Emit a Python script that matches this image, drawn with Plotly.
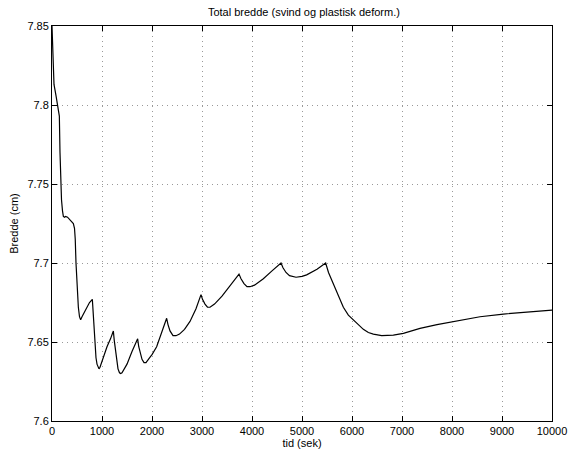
import plotly.graph_objects as go

tid = [0, 15, 40, 80, 120, 147, 160, 173, 190, 210, 227, 250, 273, 310, 340, 380, 427, 450, 465, 480, 500, 527, 550, 573,
       600, 650, 700, 750, 807, 820, 835, 847, 865, 880, 900, 920, 940, 960, 990, 1027, 1100, 1170, 1227,
       1245, 1265, 1290, 1320, 1350, 1373, 1400, 1450, 1500, 1600, 1713,
       1735, 1760, 1800, 1840, 1880, 1950, 2000, 2093, 2200, 2293,
       2320, 2360, 2420, 2480, 2550, 2650, 2760, 2880, 2980,
       3010, 3060, 3110, 3160, 3250, 3400, 3550, 3740,
       3780, 3840, 3900, 3960, 4050, 4227, 4400, 4580,
       4620, 4680, 4750, 4880, 5000, 5093, 5300, 5473,
       5530, 5627, 5727, 5827, 5927, 6027, 6127, 6227, 6327, 6427, 6593, 6827, 7027, 7360, 7700, 8027, 8560, 9027, 9560, 10000]
bredde = [7.85, 7.83, 7.813, 7.806, 7.799, 7.793, 7.77, 7.752, 7.74, 7.733, 7.7295, 7.729, 7.7295, 7.729, 7.728, 7.727, 7.725, 7.722, 7.715, 7.700, 7.685, 7.672, 7.666, 7.664,
          7.666, 7.669, 7.672, 7.675, 7.677, 7.670, 7.660, 7.653, 7.645, 7.640, 7.636, 7.634, 7.633, 7.634, 7.637, 7.641, 7.647, 7.652, 7.657,
          7.651, 7.645, 7.638, 7.633, 7.6305, 7.630, 7.6305, 7.633, 7.636, 7.644, 7.652,
          7.647, 7.643, 7.639, 7.637, 7.637, 7.640, 7.642, 7.647, 7.656, 7.665,
          7.661, 7.657, 7.654, 7.654, 7.655, 7.658, 7.663, 7.671, 7.680,
          7.677, 7.674, 7.672, 7.672, 7.674, 7.679, 7.685, 7.693,
          7.690, 7.687, 7.685, 7.685, 7.686, 7.690, 7.695, 7.700,
          7.697, 7.694, 7.692, 7.691, 7.6915, 7.6925, 7.696, 7.700,
          7.694, 7.687, 7.679, 7.672, 7.667, 7.664, 7.661, 7.658, 7.656, 7.655, 7.654, 7.6544, 7.6555, 7.6586, 7.661, 7.6628, 7.666, 7.6677, 7.6692, 7.6702]

x_ticks = [0, 1000, 2000, 3000, 4000, 5000, 6000, 7000, 8000, 9000, 10000]
y_ticks = [7.6, 7.65, 7.7, 7.75, 7.8, 7.85]
y_labels = ["7.6", "7.65", "7.7", "7.75", "7.8", "7.85"]

font = "Liberation Sans, Arial, Helvetica, sans-serif"

fig = go.Figure()
fig.add_trace(go.Scatter(x=tid, y=bredde, mode="lines", line=dict(color="black", width=1.2), showlegend=False))

axis_common = dict(showline=True, linecolor="black", linewidth=1, mirror="ticks", ticks="inside", ticklen=5,
                   tickcolor="black", showgrid=True, gridcolor="#999999", griddash="1px,4px", gridwidth=1,
                   zeroline=False, automargin=False, tickfont=dict(family=font, size=11, color="black"))

fig.update_layout(
    width=568, height=451,
    margin=dict(l=52, r=16, t=26, b=30, autoexpand=False),
    paper_bgcolor="white", plot_bgcolor="white",
    title=dict(text="Total bredde (svind og plastisk deform.)", x=0.535, xanchor="center", y=0.973, yanchor="middle",
               font=dict(family=font, size=11, color="black")),
    xaxis=dict(range=[0, 10000], tickvals=x_ticks, ticktext=[str(v) for v in x_ticks],
               title=dict(text="tid (sek)", standoff=0, font=dict(family=font, size=11, color="black")),
               **axis_common),
    yaxis=dict(range=[7.6, 7.85], tickvals=y_ticks, ticktext=y_labels,
               title=dict(text="Bredde (cm)", standoff=6, font=dict(family=font, size=11, color="black")),
               **axis_common),
)

fig.write_html("out.html", config={"displayModeBar": False},
               post_script="document.body.style.margin='0';document.body.style.overflow='hidden';")
